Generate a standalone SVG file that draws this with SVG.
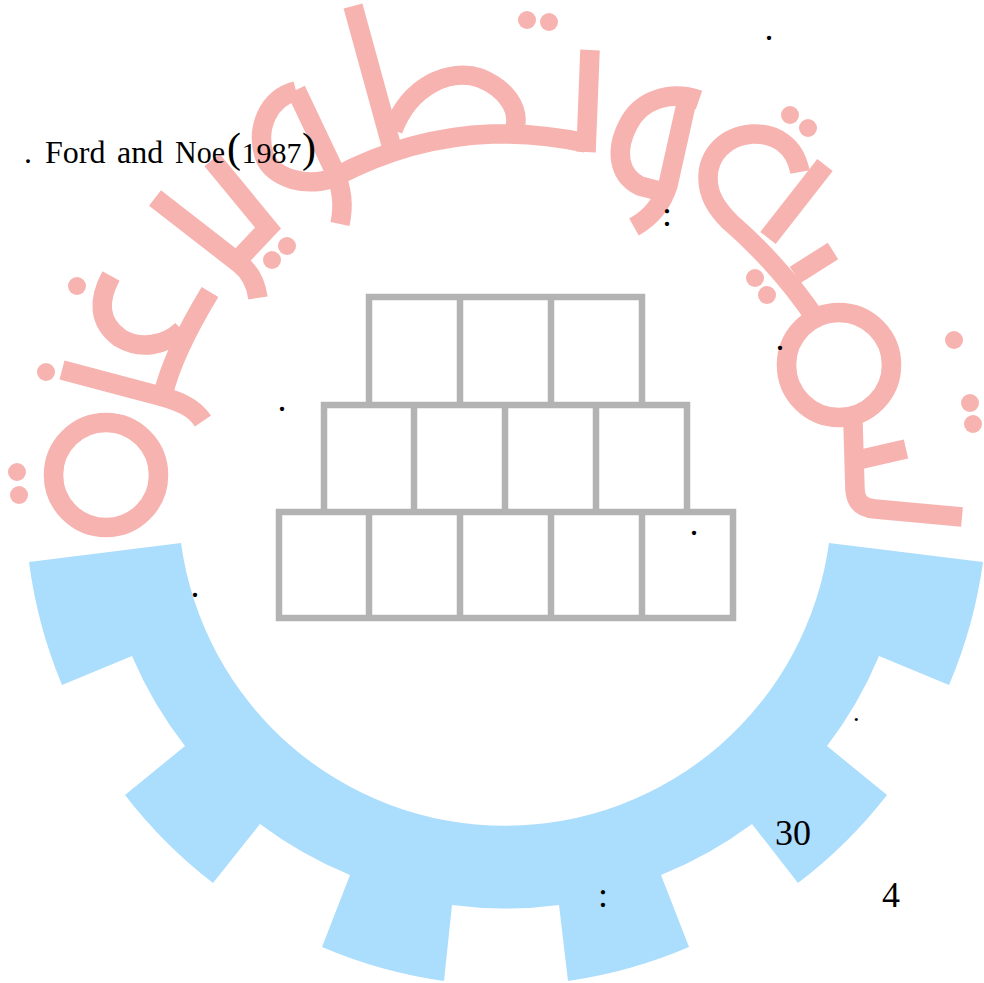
<svg xmlns="http://www.w3.org/2000/svg" width="984" height="983" viewBox="0 0 984 983">
<style>
.p{fill:none;stroke:#F7B3B0;stroke-width:19.5}
.d{fill:#F7B3B0}
.g{fill:none;stroke:#B3B3B3;stroke-width:6.5}
text{font-family:"Liberation Serif","Times New Roman",serif;fill:#000}
.t{font-size:32px}
.k{font-size:36px}
</style>
<rect width="984" height="983" fill="#fff"/>
<g id="gear">
<path fill="#ABDDFC" d="M29 562L181 543A327 327 0 0 0 829 543L983 562A481 481 0 0 1 949 685L879 656A404 404 0 0 1 827 746L887 795A481 481 0 0 1 798 883L752 824A404 404 0 0 1 661 875L689 947A481 481 0 0 1 568 981L559 905A404 404 0 0 1 452 905L444 981A481 481 0 0 1 322 947L350 875A404 404 0 0 1 260 824L213 883A481 481 0 0 1 125 795L185 746A404 404 0 0 1 132 656L62 685A481 481 0 0 1 29 562Z"/>
</g>
<g id="lettering">
<circle class="p" cx="106" cy="475" r="52.5"/>
<circle class="p" cx="839" cy="365" r="52.5"/>
<path class="p" d="M62 370L160 396C182 402 194 408 203 421"/>
<path class="p" d="M210 292C190 325 170 365 163 395"/>
<path class="p" d="M111 276C98 300 98 322 120 338C140 350 165 346 182 330"/>
<path class="p" d="M155 198L240 264C250 272 256 284 258 298"/>
<path class="p" d="M212 160L268 228L236 262"/>
<path class="p" d="M296 91C268 98 256 128 264 155C272 180 310 188 335 177Q410 137 492 134Q540 133 586 143"/>
<path class="p" d="M296 90L335 172C342 190 344 205 340 224"/>
<path class="p" d="M353 6L392 148"/>
<path class="p" d="M393 130C410 85 450 68 480 78C505 88 520 108 515 128"/>
<path class="p" d="M590 50L586 152"/>
<path class="p" d="M699 100C670 90 640 100 628 125C615 150 618 175 640 186L663 192"/>
<path class="p" d="M687 100L668 185C662 205 650 218 634 227"/>
<path class="p" d="M825 165L768 238"/>
<path class="p" d="M800 172C795 145 775 133 752 134C725 136 708 155 708 178C708 195 716 208 730 222C760 248 790 280 818 322"/>
<path class="p" d="M833 251L795 275"/>
<path class="p" d="M853 423L855 490C856 502 862 508 875 509L962 517"/>
<path class="p" d="M858 460L906 449"/>
<circle class="d" cx="527" cy="20" r="9"/>
<circle class="d" cx="549" cy="22" r="9"/>
<circle class="d" cx="790" cy="115" r="9"/>
<circle class="d" cx="808" cy="128" r="9"/>
<circle class="d" cx="755" cy="278" r="9"/>
<circle class="d" cx="767" cy="295" r="9"/>
<circle class="d" cx="954" cy="340" r="9"/>
<circle class="d" cx="970" cy="403" r="9"/>
<circle class="d" cx="973" cy="424" r="9"/>
<circle class="d" cx="287" cy="246" r="9"/>
<circle class="d" cx="272" cy="260" r="9"/>
<circle class="d" cx="77" cy="286" r="9"/>
<circle class="d" cx="46" cy="372" r="9"/>
<circle class="d" cx="17" cy="472" r="9"/>
<circle class="d" cx="19" cy="495" r="9"/>
</g>
<g id="pyramid" class="g">
<path d="M369 405V297H642V405M460 297V405M551 297V405"/>
<path d="M324 512V405H687V512M414 405V512M505 405V512M596 405V512"/>
<path d="M279 512H733V618H279ZM369 512V621M460 512V621M551 512V621M642 512V621"/>
</g>
<g id="labels">
<text class="t" x="24" y="163">.</text>
<text class="t" x="45" y="163">Ford</text>
<text class="t" x="117" y="163">and</text>
<text class="t" x="175" y="163" textLength="50" lengthAdjust="spacingAndGlyphs">Noe</text>
<text x="227" y="162" font-size="42">(</text>
<text x="241.5" y="163" font-size="30">1987</text>
<text x="302" y="162" font-size="42">)</text>
<text class="k" x="764.5" y="40">.</text>
<text class="k" x="662" y="226">:</text>
<text class="k" x="775.5" y="350">.</text>
<text class="k" x="277.5" y="411">.</text>
<text class="k" x="190.5" y="597">.</text>
<text class="k" x="689.5" y="535">.</text>
<text x="853" y="721" font-size="26">.</text>
<text x="775" y="845" font-size="36">30</text>
<text x="882" y="907" font-size="36">4</text>
<text x="598" y="907" font-size="36">:</text>
</g>
</svg>
